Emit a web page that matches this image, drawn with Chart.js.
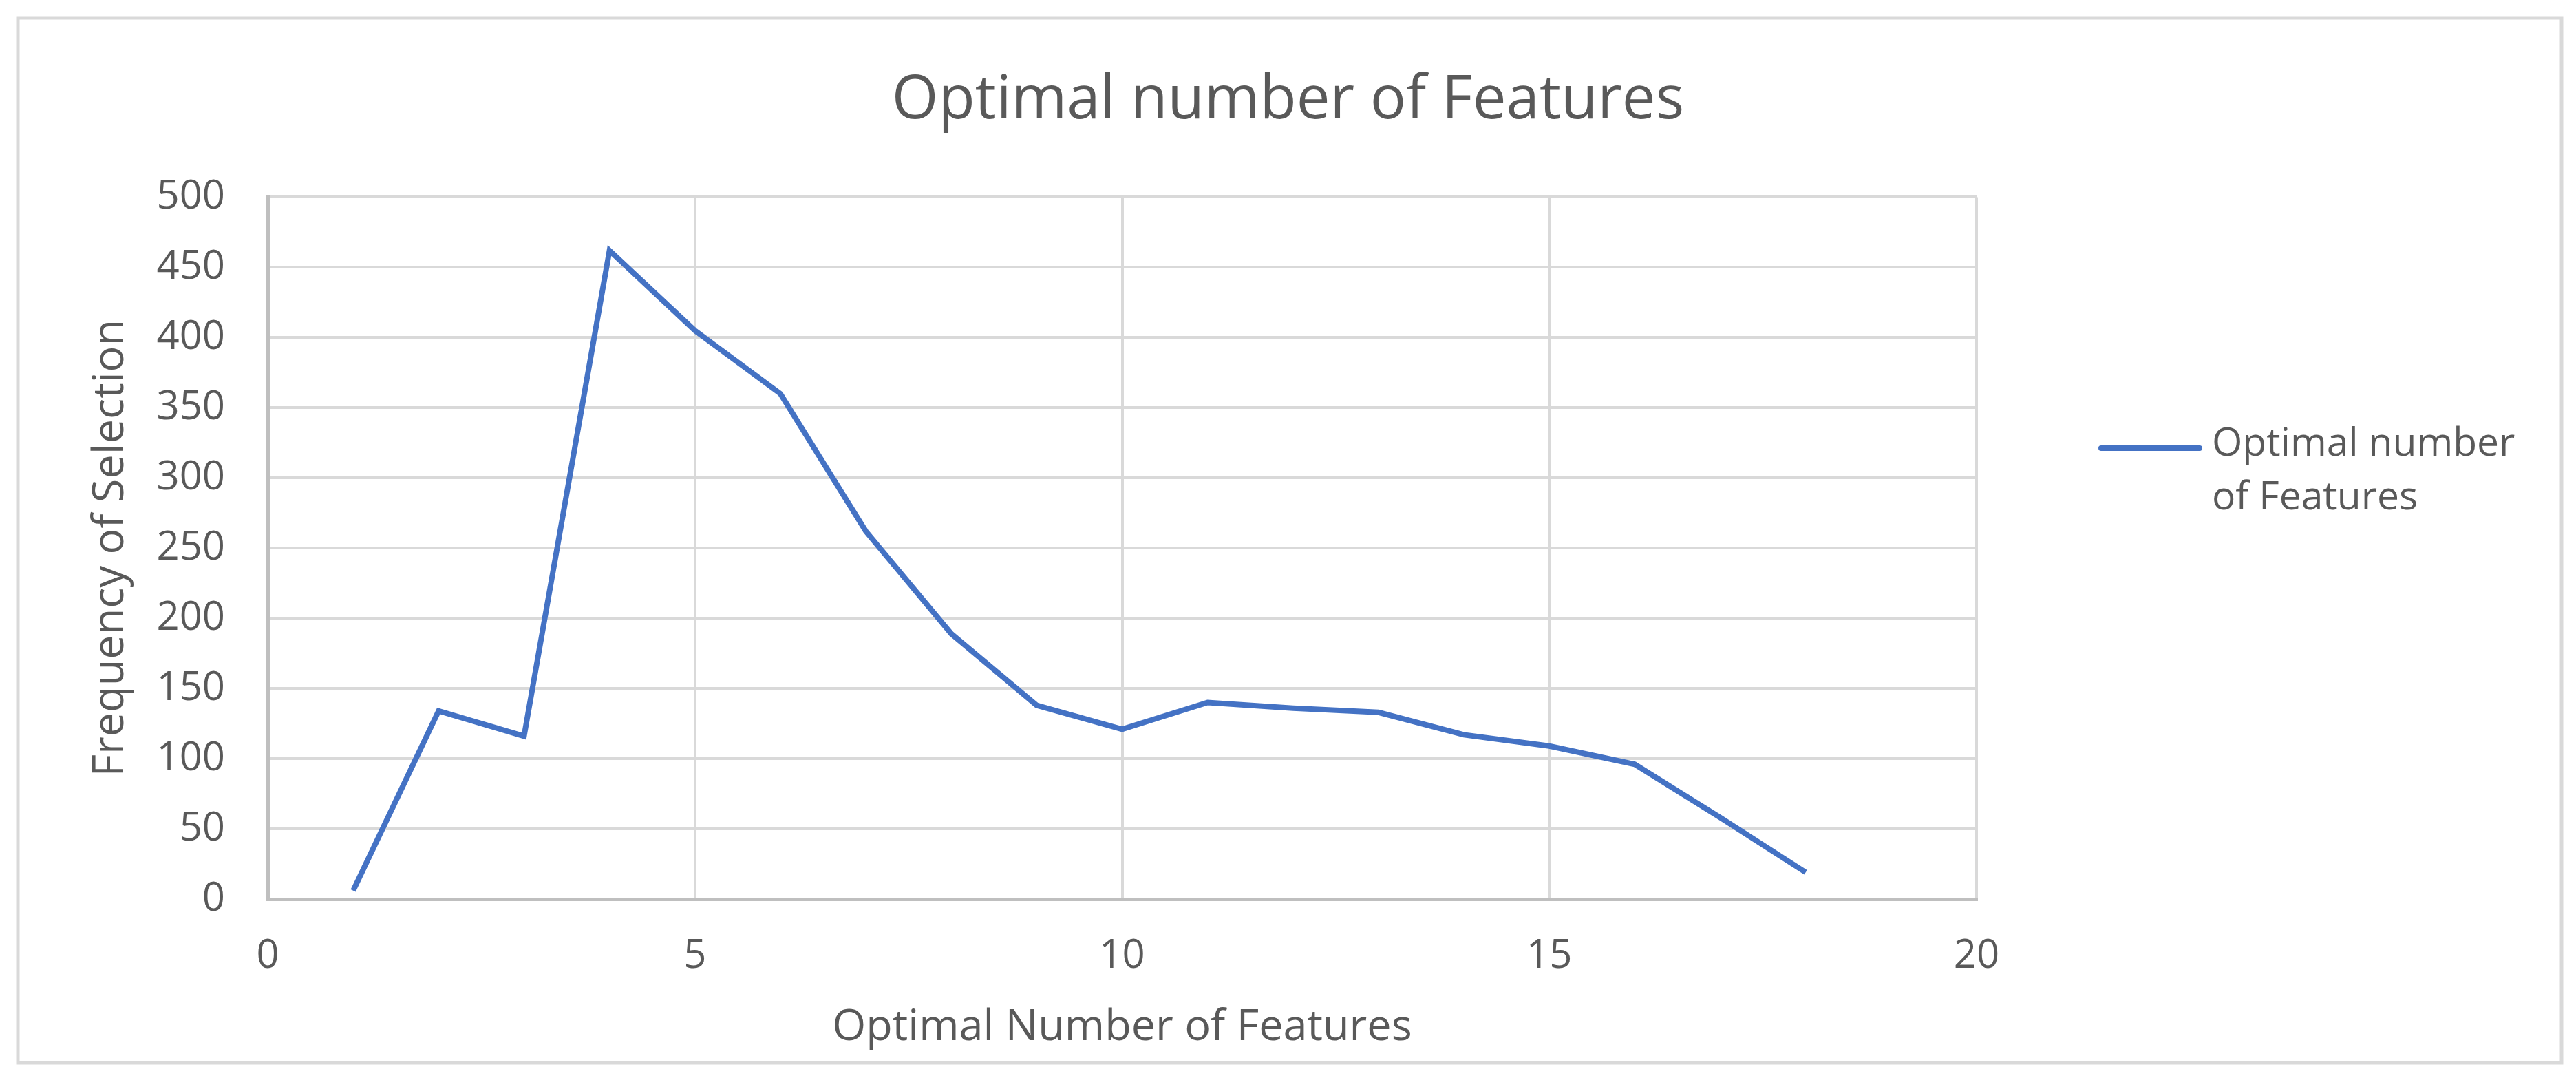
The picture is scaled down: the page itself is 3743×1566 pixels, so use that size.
<!DOCTYPE html>
<html>
<head>
<meta charset="utf-8">
<script src="https://cdn.jsdelivr.net/npm/chart.js@4.4.1/dist/chart.umd.min.js"></script>
<style>
  body { margin: 0; background: #ffffff; }
  canvas { display: block; }
</style>
</head>
<body>
<canvas id="featuresChart" width="3743" height="1566"></canvas>
<script>
// values
const featureCounts = [1, 2, 3, 4, 5, 6, 7, 8, 9, 10, 11, 12, 13, 14, 15, 16, 17, 18];
const selectionFrequency = [6, 134, 116, 462, 405, 360, 262, 189, 138, 121, 140, 136, 133, 117, 109, 96, 58, 19];
const seriesName = 'Optimal number of Features';
const legendLines = ['Optimal number', 'of Features'];
const xTicks = [0, 5, 10, 15, 20];
const yTicks = [0, 50, 100, 150, 200, 250, 300, 350, 400, 450, 500];

const textColor = '#595959';
const lineColor = '#4472C4';
const fontFamily = "'Open Sans', sans-serif";

// outer frame + white background
const framePlugin = {
    id: 'frame',
    beforeDraw: function (chart) {
        const ctx = chart.ctx;
        ctx.save();
        ctx.fillStyle = '#ffffff';
        ctx.fillRect(0, 0, chart.width, chart.height);
        ctx.strokeStyle = '#d9d9d9';
        ctx.lineWidth = 5;
        ctx.strokeRect(26, 26, 3696, 1518);
        ctx.restore();
    }
};

// legend on the right, label wrapped on two lines like the original
const sideLegend = {
    id: 'sideLegend',
    afterDraw: function (chart) {
        const ctx = chart.ctx;
        const ds = chart.data.datasets[0];
        ctx.save();
        ctx.strokeStyle = ds.borderColor;
        ctx.lineWidth = 8;
        ctx.lineCap = 'round';
        ctx.beginPath();
        ctx.moveTo(3053, 651);
        ctx.lineTo(3196, 651);
        ctx.stroke();
        ctx.fillStyle = textColor;
        ctx.font = '57px ' + fontFamily;
        ctx.textBaseline = 'middle';
        ctx.textAlign = 'left';
        legendLines.forEach(function (line, i) {
            ctx.fillText(line, 3214, 646 + i * 78);
        });
        ctx.restore();
    }
};

const ctx = document.getElementById('featuresChart').getContext('2d');
const chart = new Chart(ctx, {
    type: 'line',
    data: {
        datasets: [{
            label: seriesName,
            data: featureCounts.map((x, i) => ({ x: x, y: selectionFrequency[i] })),
            borderColor: lineColor,
            backgroundColor: lineColor,
            borderWidth: 8,
            pointRadius: 0,
            tension: 0,
            fill: false
        }]
    },
    options: {
        responsive: false,
        animation: false,
        devicePixelRatio: 1,
        layout: {
            padding: 0
        },
        plugins: {
            legend: { display: false },
            tooltip: { enabled: false },
            title: {
                display: true,
                text: seriesName,
                color: textColor,
                font: { family: fontFamily, size: 87, weight: 'normal' },
                padding: { top: 95, bottom: 87 }
            }
        },
        scales: {
            x: {
                type: 'linear',
                min: 0,
                max: 20,
                afterBuildTicks: function (scale) {
                    scale.ticks = xTicks.map(v => ({ value: v }));
                },
                afterFit: function (scale) {
                    scale.height = 260;
                },
                grid: { color: '#d9d9d9', lineWidth: 4, drawTicks: false },
                border: { color: '#bfbfbf', width: 5 },
                ticks: {
                    color: textColor,
                    padding: 49,
                    font: { family: fontFamily, size: 58 }
                },
                title: {
                    display: true,
                    text: 'Optimal Number of Features',
                    color: textColor,
                    font: { family: fontFamily, size: 63 },
                    padding: { top: 0, bottom: 35 }
                }
            },
            y: {
                min: 0,
                max: 500,
                afterBuildTicks: function (scale) {
                    scale.ticks = yTicks.map(v => ({ value: v }));
                },
                afterFit: function (scale) {
                    scale.width = 389;
                },
                grid: { color: '#d9d9d9', lineWidth: 4, drawTicks: false },
                border: { color: '#bfbfbf', width: 5 },
                ticks: {
                    color: textColor,
                    padding: 62,
                    font: { family: fontFamily, size: 58 }
                },
                title: {
                    display: true,
                    text: 'Frequency of Selection',
                    color: textColor,
                    font: { family: fontFamily, size: 63 },
                    padding: { top: 123, bottom: 0 }
                }
            },
            // empty right-hand axis that only reserves room for the legend
            legendSpace: {
                type: 'linear',
                position: 'right',
                afterFit: function (scale) {
                    scale.width = 871;
                },
                grid: { display: false },
                border: { display: false },
                ticks: { display: false }
            }
        }
    },
    plugins: [framePlugin, sideLegend]
});
</script>
</body>
</html>
